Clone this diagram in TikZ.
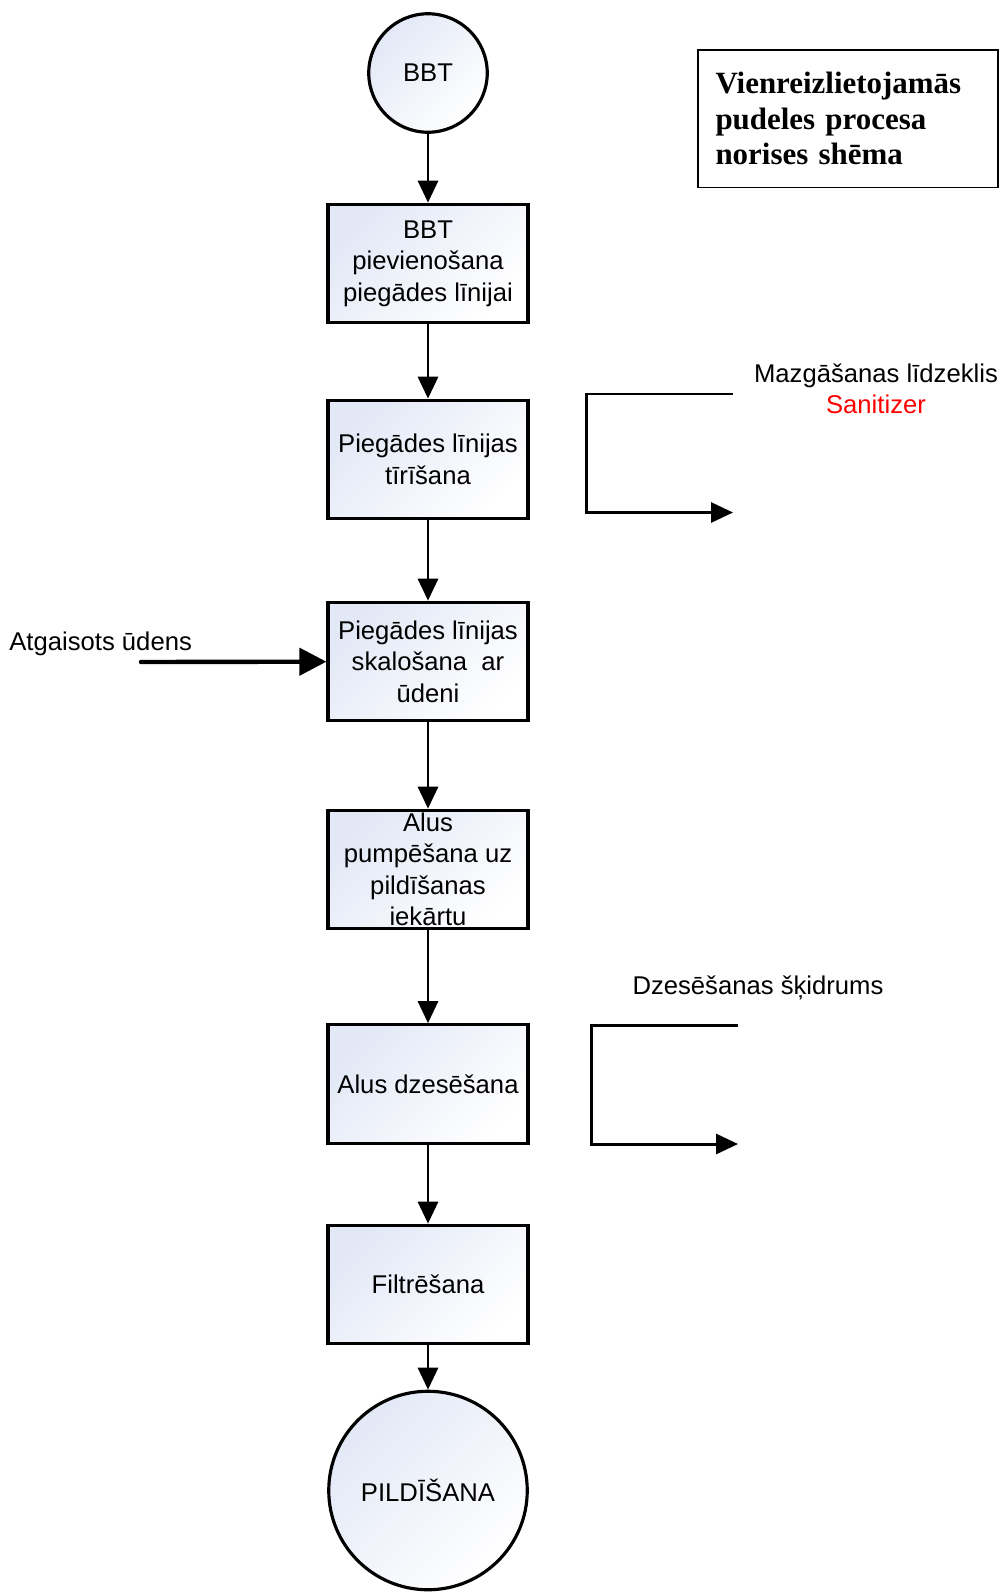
\documentclass[tikz,border=0pt]{standalone}
\usepackage{fontspec}
\setmainfont{Liberation Sans}
\newfontfamily\titlefont{Liberation Serif}
\usepackage{tikz}
\usetikzlibrary{arrows.meta,positioning,calc}
\definecolor{procblue}{RGB}{226,232,246}

\begin{document}
\begin{tikzpicture}[
  font=\fontsize{14.6}{17.9}\selectfont,
  proc/.style={draw, line width=1.8pt, minimum width=4.0cm, minimum height=2.37cm,
    inner sep=1pt, align=center, top color=procblue, bottom color=white, shading angle=45},
  term/.style={draw, circle, line width=1.8pt, inner sep=0pt, align=center,
    top color=procblue, bottom color=white, shading angle=45},
  flow/.style={line width=1.7pt, -{Triangle[length=4.4mm, width=4mm]}},
  feed/.style={line width=2.5pt, line cap=round, -{Triangle[length=5.4mm, width=5.4mm]}}
]
\useasboundingbox (0,0) rectangle (20.06,-31.84);
\node[term, minimum size=2.37cm] (bbt)    at (8.56,-1.46)  {BBT};
\node[proc] (attach) at (8.56,-5.27)  {BBT\\pievienošana\\piegādes līnijai};
\node[proc] (clean)  at (8.56,-9.19)  {Piegādes līnijas\\tīrīšana};
\node[proc] (rinse)  at (8.56,-13.23) {Piegādes līnijas\\skalošana~ ar\\ūdeni};
\node[proc] (pump)   at (8.56,-17.39) {Alus\\pumpēšana uz\\pildīšanas\\iekārtu};
\node[proc] (cool)   at (8.56,-21.68) {Alus dzesēšana};
\node[proc] (filter) at (8.56,-25.69) {Filtrēšana};
\node[term, minimum size=3.97cm] (fill)   at (8.56,-29.81) {PILDĪŠANA};
\draw[flow] (bbt) -- (attach);
\draw[flow] (attach) -- (clean);
\draw[flow] (clean) -- (rinse);
\draw[flow] (rinse) -- (pump);
\draw[flow] (pump) -- (cool);
\draw[flow] (cool) -- (filter);
\draw[flow] (filter) -- (fill);
% title
\node[draw, line width=1pt, minimum width=6.0cm, minimum height=2.75cm, text width=5.3cm,
  align=left, font=\titlefont\bfseries\fontsize{17.6}{20.2}\selectfont] (title)
  at (16.96,-2.375) {Vienreizlietojamās\\pudeles procesa\\norises shēma\\[-6pt]};
% side streams
\node[inner sep=0pt, anchor=west] (water) at (0.18,-12.87) {Atgaisots ūdens};
\coordinate (water in) at (2.82,-13.24);
\draw[feed] (water in) -- (rinse);
\node[align=center, inner sep=0pt] (wash) at (17.52,-7.78)
  {Mazgāšanas līdzeklis\\\textcolor{red}{Sanitizer}};
\coordinate (wash in)  at (14.66,-7.88);
\coordinate (wash bend) at (11.72,-7.88);
\coordinate (wash out) at (14.66,-10.25);
\draw[flow] (wash in) -- (wash bend) |- (wash out);
\node[inner sep=0pt] (coolant) at (15.16,-19.76) {Dzesēšanas šķidrums};
\coordinate (cool in)  at (14.76,-20.51);
\coordinate (cool bend) at (11.82,-20.51);
\coordinate (cool out) at (14.76,-22.88);
\draw[flow] (cool in) -- (cool bend) |- (cool out);
\end{tikzpicture}
\end{document}
